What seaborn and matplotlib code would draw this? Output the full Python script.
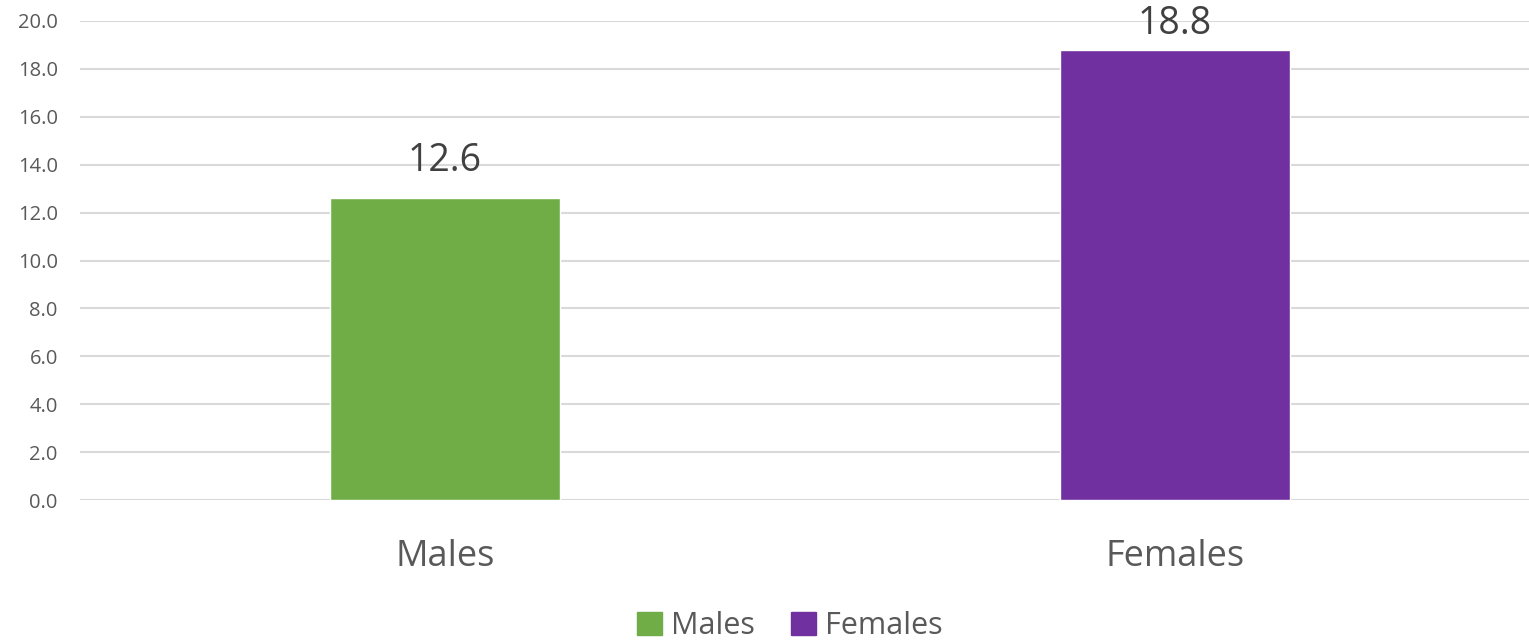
import matplotlib
matplotlib.use("Agg")
import matplotlib.pyplot as plt
import seaborn as sns
import pandas as pd
from matplotlib.patches import Patch

categories = ["Males", "Females"]
values = [12.6, 18.8]
colors = ["#70AD47", "#7030A0"]
yticks = [0, 2, 4, 6, 8, 10, 12, 14, 16, 18, 20]

sns.set_style("white")
plt.rcParams['font.family'] = ['Open Sans', 'DejaVu Sans']

df = pd.DataFrame({"cat": categories, "val": values})

fig = plt.figure(figsize=(15.29, 6.41), dpi=100)
ax = fig.add_axes([80/1529, 141/641, 1449/1529, 479/641])
sns.barplot(data=df, x="cat", y="val", hue="cat", palette=colors, width=0.314,
            ax=ax, legend=False, saturation=1)
ax.set_xlim(-0.5, 1.485)
ax.set_ylim(0, 20)
ax.set_yticks(yticks)
ax.set_yticklabels([f"{t:.1f}" for t in yticks], fontsize=14.5, color="#595959")
ax.tick_params(axis='y', length=0, pad=16)
ax.tick_params(axis='x', length=0, pad=28, labelsize=26, labelcolor="#595959")
ax.grid(axis='y', color="#D9D9D9", linewidth=1.5)
ax.set_axisbelow(True)
for s in ax.spines.values():
    s.set_visible(False)
ax.set_xlabel("")
ax.set_ylabel("")

for i, v in enumerate(values):
    off = min(0.75, 19.07 - v)
    ax.text(i, v + off, f"{v:.1f}", ha="center", va="bottom", fontsize=27,
            color="#404040", clip_on=False)

handles = [Patch(color=c, label=l) for c, l in zip(colors, categories)]
fig.legend(handles=handles, loc="center", bbox_to_anchor=(790/1529, 1 - 626/641),
           ncol=2, frameon=False, fontsize=22, handlelength=0.8, handleheight=0.8,
           columnspacing=1.2, handletextpad=0.3, labelcolor="#595959")

fig.savefig("out.png", dpi=100)
